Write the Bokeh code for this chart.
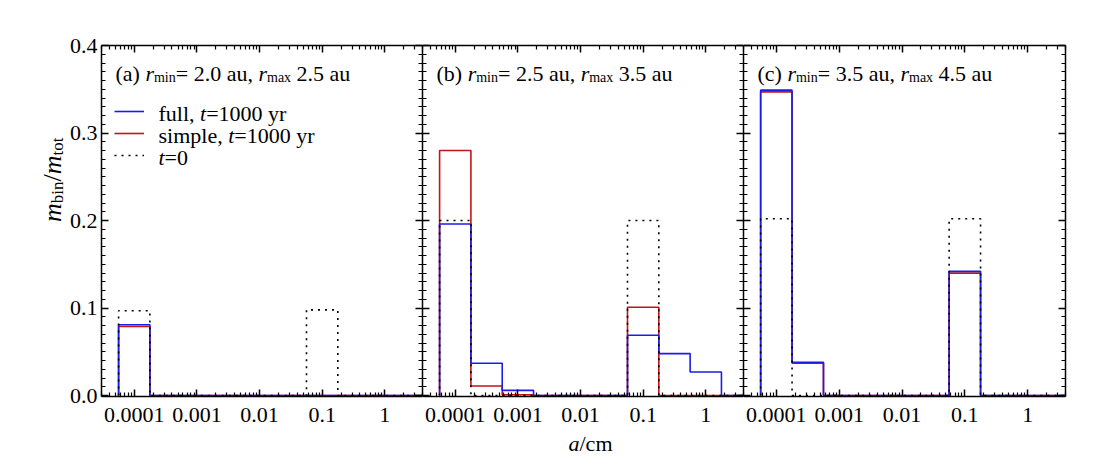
import math

from bokeh.plotting import figure
from bokeh.layouts import row, column
from bokeh.models import (Range1d, FixedTicker, LinearAxis, LogAxis, Label,
                          Legend, LegendItem, PrintfTickFormatter,
                          CustomJSTickFormatter)
from bokeh.embed import file_html
from bokeh.resources import INLINE

# ---------------------------------------------------------------------------
# Data: mass fraction per size bin (bins are half a decade wide, centred on
# log10(a/cm) below), for the three radial annuli.
# ---------------------------------------------------------------------------
log_a_centres = [-4.0, -3.5, -3.0, -2.5, -2.0, -1.5, -1.0, -0.5, 0.0, 0.5]

full_a   = [0.081, 0.0,   0.0,   0.0, 0.0, 0.0, 0.0,   0.0,   0.0,   0.0]
simple_a = [0.079, 0.0,   0.0,   0.0, 0.0, 0.0, 0.0,   0.0,   0.0,   0.0]
init_a   = [0.097, 0.0,   0.0,   0.0, 0.0, 0.0, 0.098, 0.0,   0.0,   0.0]

full_b   = [0.196, 0.037, 0.006, 0.0, 0.0, 0.0, 0.069, 0.048, 0.027, 0.0]
simple_b = [0.280, 0.011, 0.001, 0.0, 0.0, 0.0, 0.101, 0.0,   0.0,   0.0]
init_b   = [0.200, 0.0,   0.0,   0.0, 0.0, 0.0, 0.200, 0.0,   0.0,   0.0]

full_c   = [0.349, 0.038, 0.0,   0.0, 0.0, 0.0, 0.142, 0.0,   0.0,   0.0]
simple_c = [0.347, 0.037, 0.0,   0.0, 0.0, 0.0, 0.140, 0.0,   0.0,   0.0]
init_c   = [0.202, 0.0,   0.0,   0.0, 0.0, 0.0, 0.202, 0.0,   0.0,   0.0]

panel_tags = ["(a)", "(b)", "(c)"]
r_min_au = ["2.0", "2.5", "3.5"]
r_max_au = ["2.5", "3.5", "4.5"]

x_tick_values = [1e-4, 1e-3, 1e-2, 1e-1, 1.0]
x_tick_labels = ["0.0001", "0.001", "0.01", "0.1", "1"]
y_tick_values = [0.0, 0.1, 0.2, 0.3, 0.4]

# ---------------------------------------------------------------------------
# Layout constants (pixels, window coordinates with y downwards)
# ---------------------------------------------------------------------------
W, H = 1109, 467
ROW_H = 432                    # height of the row holding the panels
XLAB_H = H - ROW_H             # strip under the panels for the x title
YLAB_W = 66                    # strip left of the panels for the y title
TOP = 45
FRAME_BOTTOM = 396
LEFT_A = 100 - YLAB_W
RIGHT = 44
FRAME_W = [322, 321, 322]
FRAME_LEFT = [100, 422, 743]

FONT = "Liberation Serif"
BLUE = "#1c1ce8"
RED = "#c41414"
DOT = "2 5"

# Times-compatible advance widths (1/1000 em), used to chain text runs
ROMAN = {' ': 250, '(': 333, ')': 333, ',': 250, '.': 250, '/': 278, '=': 564,
         'a': 444, 'b': 500, 'c': 444, 'e': 444, 'f': 333, 'i': 278, 'l': 278,
         'm': 778, 'n': 500, 'o': 500, 'p': 500, 'r': 333, 's': 389, 't': 278,
         'u': 500, 'x': 500, 'y': 500}
ITALIC = {'a': 500, 'm': 722, 'r': 389, 't': 278}


def advance(text, size, italic):
    table = ITALIC if italic else ROMAN
    return sum(table.get(ch, 500) for ch in text) * size / 1000.0


def text_run(p, origin_x, origin_bottom, x0, y0, pieces, vertical=False):
    """Place (text, size, italic, baseline shift) pieces one after another.

    x0, y0 are window coordinates of the first baseline point; origin_x and
    origin_bottom give the frame's left and bottom edge in the same system.
    """
    pos = y0 if vertical else x0
    for txt, size, italic, shift in pieces:
        lead = len(txt) - len(txt.lstrip(" "))
        pos_txt = pos + (-1 if vertical else 1) * advance(" " * lead, size, italic)
        if vertical:
            wx, wy, angle = x0 + shift, pos_txt, math.pi / 2
        else:
            wx, wy, angle = pos_txt, y0 + shift, 0.0
        p.add_layout(Label(x=wx - origin_x, y=origin_bottom - wy,
                           x_units="screen", y_units="screen", text=txt.strip(" "),
                           angle=angle, text_font=FONT,
                           text_font_size=f"{size}px",
                           text_font_style="italic" if italic else "normal",
                           text_baseline="alphabetic", text_align="left",
                           text_color="black"))
        step = advance(txt, size, italic)
        pos = pos - step if vertical else pos + step


def outline(values):
    """Histogram outline through the bin edges."""
    lo = [10 ** (c - 0.25) for c in log_a_centres]
    hi = [10 ** (c + 0.25) for c in log_a_centres]
    xs, ys = [lo[0]], [0.0]
    for l, h, v in zip(lo, hi, values):
        xs += [l, h]
        ys += [v, v]
    xs.append(hi[-1])
    ys.append(0.0)
    return xs, ys


x_minor = [k * 10.0 ** d for d in range(-5, 1) for k in range(2, 10)]
y_minor = [i / 100 for i in range(0, 41)]


def style_axis(ax, labelled):
    ax.axis_line_color = "black"
    ax.axis_line_width = 1.5
    ax.major_tick_in, ax.major_tick_out = 7, 0
    ax.minor_tick_in, ax.minor_tick_out = 4, 0
    ax.major_tick_line_color = "black"
    ax.minor_tick_line_color = "black"
    ax.major_tick_line_width = 1.5
    ax.minor_tick_line_width = 1.2
    ax.axis_label = None
    if labelled:
        ax.major_label_text_font = FONT
        ax.major_label_text_font_size = "22px"
        ax.major_label_text_color = "black"
    else:
        ax.formatter = CustomJSTickFormatter(code="return ''")
        ax.major_label_text_font_size = "2px"
        ax.major_label_standoff = 0


def blank(width, height):
    """A figure with no axes whose frame fills the canvas, for titles."""
    p = figure(width=width, height=height, x_axis_type=None, y_axis_type=None,
               x_range=Range1d(0, 1), y_range=Range1d(0, 1),
               output_backend="svg", toolbar_location=None, min_border=0)
    p.outline_line_color = None
    p.background_fill_color = "white"
    p.border_fill_color = "white"
    return p


def make_panel(idx, full, simple, init):
    first, last = idx == 0, idx == 2
    width = FRAME_W[idx] + (LEFT_A if first else 0) + (RIGHT if last else 0)
    p = figure(width=width, height=ROW_H, x_axis_type="log",
               x_range=Range1d(3e-5, 4.0), y_range=Range1d(-0.001, 0.4),
               output_backend="svg", toolbar_location=None,
               min_border_left=LEFT_A if first else 0,
               min_border_right=RIGHT if last else 0,
               min_border_top=TOP, min_border_bottom=ROW_H - FRAME_BOTTOM)
    p.outline_line_color = None
    p.xgrid.visible = False
    p.ygrid.visible = False
    p.background_fill_color = "white"
    p.border_fill_color = "white"

    bottom = p.xaxis[0]
    bottom.ticker = FixedTicker(ticks=x_tick_values, minor_ticks=x_minor)
    bottom.formatter = PrintfTickFormatter(format="%g")
    bottom.major_label_overrides = dict(zip(x_tick_values, x_tick_labels))
    style_axis(bottom, True)
    bottom.major_label_standoff = 11

    left = p.yaxis[0]
    left.ticker = FixedTicker(ticks=y_tick_values, minor_ticks=y_minor)
    if first:
        left.formatter = PrintfTickFormatter(format="%.1f")
    style_axis(left, first)
    if first:
        left.major_label_standoff = 4

    top = LogAxis(ticker=FixedTicker(ticks=x_tick_values, minor_ticks=x_minor))
    style_axis(top, False)
    p.add_layout(top, "above")

    right = LinearAxis(ticker=FixedTicker(ticks=y_tick_values, minor_ticks=y_minor))
    style_axis(right, False)
    p.add_layout(right, "right")

    xs, ys = outline(simple)
    r_simple = p.line(xs, ys, line_color=RED, line_width=1.6)
    xs, ys = outline(full)
    r_full = p.line(xs, ys, line_color=BLUE, line_width=1.6)
    xs, ys = outline(init)
    r_init = p.line(xs, ys, line_color="black", line_width=1.6, line_dash=DOT)

    fl = FRAME_LEFT[idx]
    text_run(p, fl, FRAME_BOTTOM, fl + 14, 73, [
        (f"{panel_tags[idx]} ", 22, False, 0),
        ("r", 22, True, 0),
        ("min", 14, False, 4),
        (f"= {r_min_au[idx]} au, ", 22, False, 0),
        ("r", 22, True, 0),
        ("max", 14, False, 4),
        (f" {r_max_au[idx]} au", 22, False, 0),
    ])
    return p, (r_full, r_simple, r_init)


pa, (ra_full, ra_simple, ra_init) = make_panel(0, full_a, simple_a, init_a)
pb, _ = make_panel(1, full_b, simple_b, init_b)
pc, _ = make_panel(2, full_c, simple_c, init_c)

# legend swatches; the entry texts are set as styled runs next to them
legend = Legend(items=[LegendItem(label=" ", renderers=[ra_full]),
                       LegendItem(label=" ", renderers=[ra_simple]),
                       LegendItem(label=" ", renderers=[ra_init])],
                location=(13, FRAME_BOTTOM - 100 - 66),
                glyph_width=30, glyph_height=22, label_height=22,
                label_width=1, label_standoff=0, label_text_font_size="2px",
                spacing=0, padding=0, margin=0,
                border_line_color=None, background_fill_alpha=0)
pa.add_layout(legend)

fa = FRAME_LEFT[0]
text_run(pa, fa, FRAME_BOTTOM, 157, 112.5, [("full, ", 22, False, 0), ("t", 22, True, 0), ("=1000 yr", 22, False, 0)])
text_run(pa, fa, FRAME_BOTTOM, 157, 134.5, [("simple, ", 22, False, 0), ("t", 22, True, 0), ("=1000 yr", 22, False, 0)])
text_run(pa, fa, FRAME_BOTTOM, 157, 156.5, [("t", 22, True, 0), ("=0", 22, False, 0)])

# axis titles in their own strips
ylab = blank(YLAB_W, ROW_H)
text_run(ylab, 0, ROW_H, 52, 257.5, [
    ("m", 26, True, 0), ("bin", 17, False, 5), ("/", 26, False, 0),
    ("m", 26, True, 0), ("tot", 17, False, 5)], vertical=True)

xlab = blank(W, XLAB_H)
text_run(xlab, 0, H, 568, 443, [("a", 22, True, 0), ("/cm", 22, False, 0)])

layout = column(row(ylab, pa, pb, pc, spacing=0), xlab, spacing=0)
open("out.html", "w").write(file_html(layout, INLINE))
